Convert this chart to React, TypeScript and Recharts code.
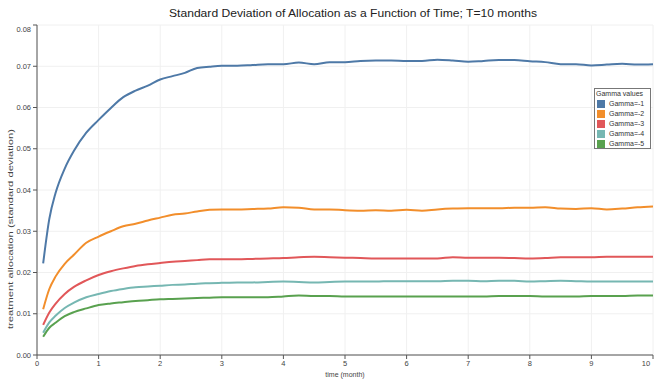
import { LineChart, Line, XAxis, YAxis, CartesianGrid } from "recharts"

const time = [
  0.1, 0.2, 0.3, 0.45, 0.6, 0.8, 1.0, 1.2, 1.4, 1.6, 1.8, 2.0, 2.2, 2.4, 2.6, 2.8, 3.0,
  3.25, 3.5, 3.75, 4.0, 4.25, 4.5, 4.75, 5.0, 5.25, 5.5, 5.75, 6.0, 6.25, 6.5, 6.75,
  7.0, 7.25, 7.5, 7.75, 8.0, 8.25, 8.5, 8.75, 9.0, 9.25, 9.5, 9.75, 10.0,
]

const gamma1 = [
  0.0222, 0.033, 0.0392, 0.0452, 0.0495, 0.0539, 0.057, 0.0599, 0.0625, 0.0641, 0.0653,
  0.0668, 0.0676, 0.0684, 0.0696, 0.0699, 0.0701, 0.0701, 0.0703, 0.0705, 0.0705, 0.0709,
  0.0705, 0.071, 0.071, 0.0713, 0.0714, 0.0714, 0.0713, 0.0713, 0.0716, 0.0714, 0.0711,
  0.0713, 0.0715, 0.0715, 0.0712, 0.071, 0.0705, 0.0705, 0.0702, 0.0704, 0.0706, 0.0704,
  0.0705,
]
const gamma2 = [
  0.0111, 0.016, 0.019, 0.0221, 0.0243, 0.0272, 0.0287, 0.03, 0.0312, 0.0318, 0.0326,
  0.0333, 0.034, 0.0343, 0.0348, 0.0352, 0.0353, 0.0353, 0.0354, 0.0355, 0.0358, 0.0357,
  0.0353, 0.0353, 0.0351, 0.035, 0.0351, 0.035, 0.0352, 0.035, 0.0353, 0.0355, 0.0356,
  0.0356, 0.0356, 0.0357, 0.0357, 0.0358, 0.0355, 0.0354, 0.0356, 0.0353, 0.0355, 0.0358,
  0.036,
]
const gamma3 = [
  0.0073, 0.0103, 0.0124, 0.0148, 0.0165, 0.0181, 0.0194, 0.0203, 0.021, 0.0216, 0.022,
  0.0223, 0.0226, 0.0228, 0.023, 0.0232, 0.0232, 0.0232, 0.0233, 0.0234, 0.0235, 0.0237,
  0.0238, 0.0237, 0.0236, 0.0235, 0.0234, 0.0234, 0.0234, 0.0234, 0.0234, 0.0237, 0.0236,
  0.0236, 0.0236, 0.0235, 0.0234, 0.0235, 0.0237, 0.0237, 0.0237, 0.0238, 0.0238, 0.0238,
  0.0238,
]
const gamma4 = [
  0.0054, 0.0079, 0.0095, 0.0114, 0.0127, 0.014, 0.0148, 0.0155, 0.016, 0.0164, 0.0166,
  0.0168, 0.017, 0.0171, 0.0173, 0.0174, 0.0175, 0.0176, 0.0176, 0.0177, 0.0178, 0.0177,
  0.0176, 0.0177, 0.0178, 0.0178, 0.0178, 0.0179, 0.0179, 0.0179, 0.0179, 0.018, 0.018,
  0.0179, 0.018, 0.018, 0.0178, 0.0179, 0.018, 0.0179, 0.0178, 0.0178, 0.0178, 0.0178,
  0.0178,
]
const gamma5 = [
  0.0044, 0.0066, 0.0078, 0.0094, 0.0104, 0.0113, 0.0121, 0.0125, 0.0128, 0.0131, 0.0133,
  0.0135, 0.0136, 0.0137, 0.0138, 0.0139, 0.014, 0.014, 0.014, 0.014, 0.0142, 0.0144,
  0.0143, 0.0143, 0.0142, 0.0142, 0.0142, 0.0142, 0.0142, 0.0142, 0.0142, 0.0142, 0.0142,
  0.0142, 0.0143, 0.0143, 0.0143, 0.0142, 0.0142, 0.0142, 0.0143, 0.0143, 0.0143, 0.0144,
  0.0144,
]

const seriesNames = ["Gamma=-1", "Gamma=-2", "Gamma=-3", "Gamma=-4", "Gamma=-5"]
const seriesColors = ["#4e79a7", "#f28e2b", "#e15759", "#76b7b2", "#59a14f"]
const xTicks = [0, 1, 2, 3, 4, 5, 6, 7, 8, 9, 10]
const yTicks = [0, 0.01, 0.02, 0.03, 0.04, 0.05, 0.06, 0.07, 0.08]

const allSeries = [gamma1, gamma2, gamma3, gamma4, gamma5]
const data = time.map((t, i) => {
  const row: Record<string, number> = { t }
  allSeries.forEach((s, k) => {
    row[seriesNames[k]] = s[i]
  })
  return row
})

const font = '"Liberation Sans", Arial, sans-serif'

function YTick(props: any) {
  const { x, y, payload } = props
  return (
    <text x={x} y={Math.max(y, 29)} dy={2.5} textAnchor="end" fontSize={7.5} fill="#444" fontFamily={font}>
      {Number(payload.value).toFixed(2)}
    </text>
  )
}

function XTick(props: any) {
  const { x, y, payload } = props
  return (
    <text x={x} y={y} dy={4.5} textAnchor="middle" fontSize={7.5} fill="#444" fontFamily={font}>
      {payload.value}
    </text>
  )
}

function LegendBox() {
  return (
    <div
      style={{
        position: "absolute",
        left: 594,
        top: 88,
        width: 55,
        height: 59,
        border: "1px solid #777",
        background: "#fff",
        fontFamily: font,
        fontSize: 7,
        color: "#333",
        lineHeight: "10px",
      }}
    >
      <div style={{ paddingLeft: 1 }}>Gamma values</div>
      {seriesNames.map((name, k) => (
        <div key={name} style={{ display: "flex", alignItems: "center", height: 10 }}>
          <span style={{ width: 8, height: 8, background: seriesColors[k], marginLeft: 2, marginRight: 4 }} />
          <span>{name}</span>
        </div>
      ))}
    </div>
  )
}

export default function App() {
  return (
    <div style={{ position: "absolute", left: 0, top: 0, width: 654, height: 382, background: "#fff" }}>
      <LineChart width={654} height={382} data={data} margin={{ top: 25, right: 1, bottom: 0, left: 0 }}>
        <CartesianGrid stroke="#f0f0f0" />
        <XAxis
          dataKey="t"
          type="number"
          domain={[0, 10]}
          ticks={xTicks}
          height={27}
          stroke="#555"
          tickSize={4}
          tick={<XTick />}
        />
        <YAxis
          type="number"
          domain={[0, 0.08]}
          ticks={yTicks}
          width={37}
          stroke="#555"
          tickSize={4}
          tick={<YTick />}
        />
        {seriesNames.map((name, k) => (
          <Line
            key={name}
            type="monotone"
            dataKey={name}
            stroke={seriesColors[k]}
            strokeWidth={2}
            dot={false}
            isAnimationActive={false}
          />
        ))}
      </LineChart>
      <LegendBox />
      <svg width={654} height={382} style={{ position: "absolute", left: 0, top: 0, pointerEvents: "none" }}>
        <text x={353} y={17} textAnchor="middle" fontSize={11} fill="#222" fontFamily={font} textLength={368} lengthAdjust="spacingAndGlyphs">
          Standard Deviation of Allocation as a Function of Time; T=10 months
        </text>
        <text x={345} y={377} textAnchor="middle" fontSize={7} fill="#444" fontFamily={font}>
          time (month)
        </text>
        <text
          x={0}
          y={0}
          transform="translate(13,229) rotate(-90)"
          textAnchor="middle"
          fontSize={8}
          fill="#444"
          fontFamily={font}
          textLength={200}
          lengthAdjust="spacingAndGlyphs"
        >
          treatment allocation (standard deviation)
        </text>
      </svg>
    </div>
  )
}
